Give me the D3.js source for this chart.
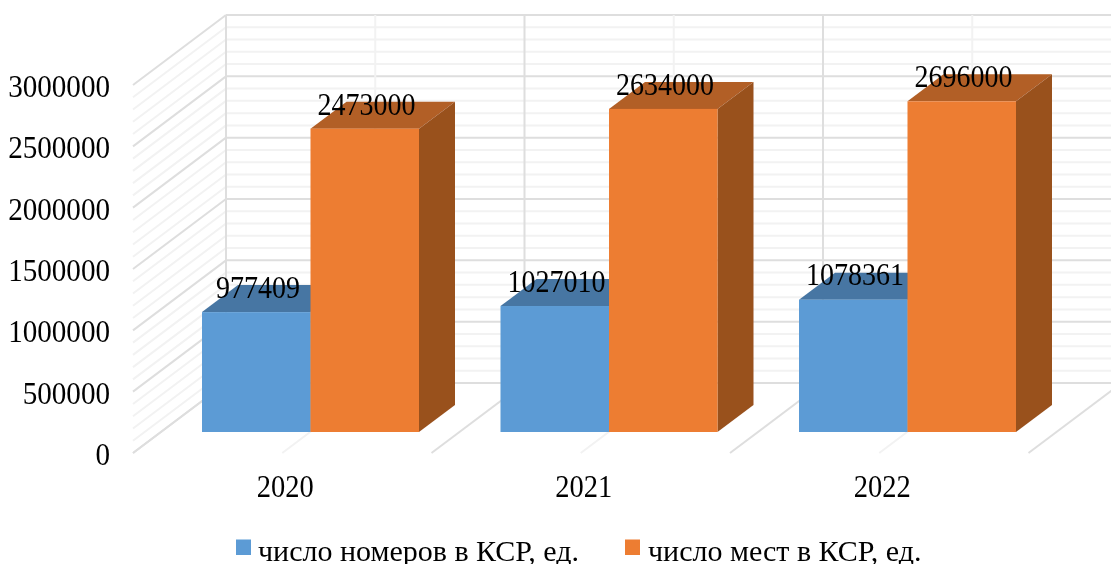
<!DOCTYPE html>
<html><head><meta charset="utf-8">
<style>html,body{margin:0;padding:0;background:#fff;overflow:hidden}svg{display:block}text{font-family:"Liberation Serif",serif;fill:#000}</style>
<script src="https://cdn.jsdelivr.net/npm/d3@7"></script></head><body>
<script>
const categories = ["2020","2021","2022"];
const seriesNames = ["число номеров в КСР, ед.","число мест в КСР, ед."];
const rooms = [977409,1027010,1078361];
const beds = [2473000,2634000,2696000];
const yTickLabels = [0,500000,1000000,1500000,2000000,2500000,3000000];

const W=1111,H=564;
const svg=d3.select("body").append("svg").attr("width",W).attr("height",H);
const defs=svg.append("defs");
defs.append("filter").attr("id","soft").append("feGaussianBlur").attr("stdDeviation",0.55);
defs.append("filter").attr("id","softText").append("feGaussianBlur").attr("stdDeviation",0.35);
const root=svg.append("g").attr("filter","url(#soft)");

const wall={dx:93,dy:70}, bar={dx:36,dy:27};
const frontLeft=133, step=298.5;
const x=d3.scaleBand().domain(categories).range([frontLeft,frontLeft+step*3]);
const y=d3.scaleLinear().domain([0,3000000]).range([453,85]);
const yBar=d3.scaleLinear().domain([0,3000000]).range([432,64]);
const minor=d3.range(0,3000001,100000);
const major=v=>v%500000===0;
const grid=root.append("g");
minor.forEach(v=>{
  const c=major(v)?"#dedede":"#f2f2f2";
  grid.append("line").attr("x1",frontLeft).attr("y1",y(v)).attr("x2",frontLeft+wall.dx).attr("y2",y(v)-wall.dy).attr("stroke",c).attr("stroke-width",2);
  grid.append("line").attr("x1",frontLeft+wall.dx).attr("y1",y(v)-wall.dy).attr("x2",W).attr("y2",y(v)-wall.dy).attr("stroke",c).attr("stroke-width",2);
});
const bounds=[];
categories.forEach(c=>{bounds.push({px:x(c),m:true});bounds.push({px:x(c)+x.bandwidth()/2,m:false});});
bounds.push({px:x.range()[1],m:true});
bounds.forEach(b=>{
  const c=b.m?"#dedede":"#f2f2f2";
  grid.append("line").attr("x1",b.px+wall.dx).attr("y1",y(3000000)-wall.dy).attr("x2",b.px+wall.dx).attr("y2",y(0)-wall.dy).attr("stroke",c).attr("stroke-width",2);
  grid.append("line").attr("x1",b.px).attr("y1",y(0)).attr("x2",b.px+wall.dx).attr("y2",y(0)-wall.dy).attr("stroke",c).attr("stroke-width",2);
});

const barW=108.5;
const xOffset=69;
const colors=[{f:"#5b9bd5",t:"#4676a3",s:"#3e6a94"},{f:"#ed7d31",t:"#b25e25",s:"#99511f"}];
const pts=a=>a.map(p=>p.join(",")).join(" ");
const marks=root.append("g");
function drawBar(x0,v,col){
  const y0=yBar(v),yb=yBar(0),x1=x0+barW;
  marks.append("polygon").attr("points",pts([[x0,y0],[x0+bar.dx,y0-bar.dy],[x1+bar.dx,y0-bar.dy],[x1,y0]])).attr("fill",col.t);
  marks.append("polygon").attr("points",pts([[x1,y0],[x1+bar.dx,y0-bar.dy],[x1+bar.dx,yb-bar.dy],[x1,yb]])).attr("fill",col.s);
  marks.append("rect").attr("x",x0).attr("y",y0).attr("width",barW).attr("height",yb-y0).attr("fill",col.f);
}
categories.forEach((c,i)=>{
  const x0=x(c)+xOffset;
  drawBar(x0,rooms[i],colors[0]);
  drawBar(x0+barW,beds[i],colors[1]);
});

// Digits in the reference are tall and narrow: same height as 32px, condensed horizontally.
const txt=svg.append("g").attr("filter","url(#softText)");
function put(g,px,py,s,size,sx,anchor){
  g.append("text").attr("transform",`translate(${px},${py}) scale(${sx},1)`)
    .attr("font-size",size).attr("text-anchor",anchor).text(s);
}
const labels=txt.append("g");
categories.forEach((c,i)=>{
  const x0=x(c)+xOffset;
  put(labels,x0+56,yBar(rooms[i])-14.5,rooms[i],32,0.875,"middle");
  put(labels,x0+barW+56,yBar(beds[i])-14,beds[i],32,0.875,"middle");
});
const axis=txt.append("g");
yTickLabels.forEach(v=>put(axis,110,y(v)+12,v,32,0.91,"end"));
const cat=txt.append("g");
categories.forEach(c=>put(cat,x(c)+x.bandwidth()/2+3,497,c,31,0.92,"middle"));

const leg=txt.append("g");
[[236,258],[625,648]].forEach(([sx,tx],i)=>{
  leg.append("rect").attr("x",sx).attr("y",539.5).attr("width",15).attr("height",15.5).attr("fill",colors[i].f);
  put(leg,tx,561,seriesNames[i],30,1,"start");
});
</script></body></html>
